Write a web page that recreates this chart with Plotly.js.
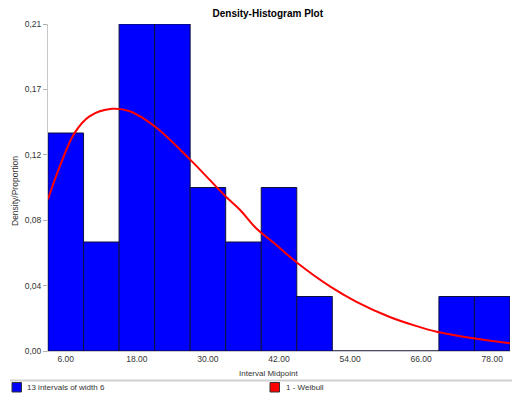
<!DOCTYPE html>
<html>
<head>
<meta charset="utf-8">
<script src="https://cdn.plot.ly/plotly-3.0.1.min.js"></script>
<style>html,body{margin:0;padding:0;background:#fff;}#chart{width:512px;height:396px;}</style>
</head>
<body>
<div id="chart"></div>
<script>
// Histogram: interval midpoints and counts (proportion = count / total)
var midpoints = [6, 12, 18, 24, 30, 36, 42, 48, 54, 60, 66, 72, 78];
var counts    = [4, 2, 6, 6, 3, 2, 3, 1, 0, 0, 0, 1, 1];
var binWidth = 6;

// Fitted Weibull curve
var weibullX = [3, 5, 7.5, 10, 13.8, 16.8, 21, 27, 33, 35.4, 38.1, 41.5, 45, 50.8, 55, 60.6, 65.1, 68.8, 74.8, 81];
var weibullY = [0.096, 0.117, 0.138, 0.1485, 0.1532, 0.1517, 0.1422, 0.1211, 0.0978, 0.0894, 0.0778, 0.0672, 0.056, 0.0404, 0.0313, 0.0217, 0.0159, 0.0120, 0.0080, 0.0049];

var xTickVals = [6, 18, 30, 42, 54, 66, 78];
var xTickText = ["6.00", "18.00", "30.00", "42.00", "54.00", "66.00", "78.00"];
var yTickText = ["0,00", "0,04", "0,08", "0,12", "0,17", "0,21"];

var titleText = "Density-Histogram Plot";
var xTitle = "Interval Midpoint";
var yTitle = "Density/Proportion";
var legendBars = "13 intervals of width 6";
var legendCurve = "1 - Weibull";

var total = counts.reduce(function(a, b){ return a + b; }, 0);
var props = counts.map(function(c){ return c / total; });
var yMax = Math.max.apply(null, props);
var yTickVals = yTickText.map(function(_, i){ return i * yMax / (yTickText.length - 1); });

var font = "Liberation Sans, Arial, sans-serif";

var traces = [
  {
    type: "bar", x: midpoints, y: props, width: binWidth,
    marker: {color: "#0000ff", line: {color: "#10103a", width: 1}},
    showlegend: false, hoverinfo: "skip"
  },
  {
    type: "scatter", mode: "lines", x: weibullX, y: weibullY,
    line: {color: "#ff0000", width: 2, shape: "spline", smoothing: 1},
    showlegend: false, hoverinfo: "skip"
  }
];

var layout = {
  width: 512, height: 396,
  margin: {l: 48, r: 2, t: 24, b: 45},
  paper_bgcolor: "#fff", plot_bgcolor: "#fff",
  bargap: 0,
  font: {family: font, size: 9, color: "#333"},
  title: {text: "<b>" + titleText + "</b>", x: 0.523, xanchor: "center", y: 0.967, yanchor: "middle",
          font: {family: font, size: 10, color: "#000"}},
  xaxis: {
    range: [3, 81], tickvals: xTickVals, ticktext: xTickText,
    showgrid: false, zeroline: false, showline: true, linecolor: "#c8c8c8", linewidth: 1,
    ticks: "", tickfont: {family: font, size: 8.5, color: "#333"}
  },
  yaxis: {
    range: [0, yMax], tickvals: yTickVals, ticktext: yTickText,
    showgrid: false, zeroline: false, showline: true, linecolor: "#c8c8c8", linewidth: 1,
    ticks: "outside", ticklen: 4, tickcolor: "#b0b0b0", ticklabelstandoff: 0,
    tickfont: {family: font, size: 8.5, color: "#333"}
  },
  shapes: [
    {type: "line", xref: "paper", yref: "paper", x0: (10-48)/462, x1: (512-48)/462, y0: (351-380.5)/327, y1: (351-380.5)/327,
     line: {color: "#d0d0d0", width: 2}},
    {type: "rect", xref: "paper", yref: "paper", x0: (12-48)/462, x1: (21.5-48)/462, y0: (351-382.5)/327, y1: (351-392)/327,
     fillcolor: "#0000ff", line: {color: "#333", width: 1}},
    {type: "rect", xref: "paper", yref: "paper", x0: (270-48)/462, x1: (279.5-48)/462, y0: (351-382.5)/327, y1: (351-392)/327,
     fillcolor: "#ff0000", line: {color: "#333", width: 1}}
  ],
  annotations: [
    {text: xTitle, xref: "paper", yref: "paper", x: (268-48)/462, y: (351-373)/327, xanchor: "center", yanchor: "middle",
     showarrow: false, font: {family: font, size: 8, color: "#333"}},
    {text: yTitle, xref: "paper", yref: "paper", x: (15-48)/462, y: (351-191)/327, xanchor: "center", yanchor: "middle",
     textangle: -90, showarrow: false, font: {family: font, size: 8.5, color: "#333"}},
    {text: legendBars, xref: "paper", yref: "paper", x: (25-48)/462, y: (351-387.5)/327, xanchor: "left", yanchor: "middle",
     showarrow: false, font: {family: font, size: 8, color: "#333"}},
    {text: legendCurve, xref: "paper", yref: "paper", x: (284-48)/462, y: (351-387.5)/327, xanchor: "left", yanchor: "middle",
     showarrow: false, font: {family: font, size: 8, color: "#333"}}
  ]
};

Plotly.newPlot("chart", traces, layout, {displayModeBar: false, staticPlot: true});
</script>
</body>
</html>
